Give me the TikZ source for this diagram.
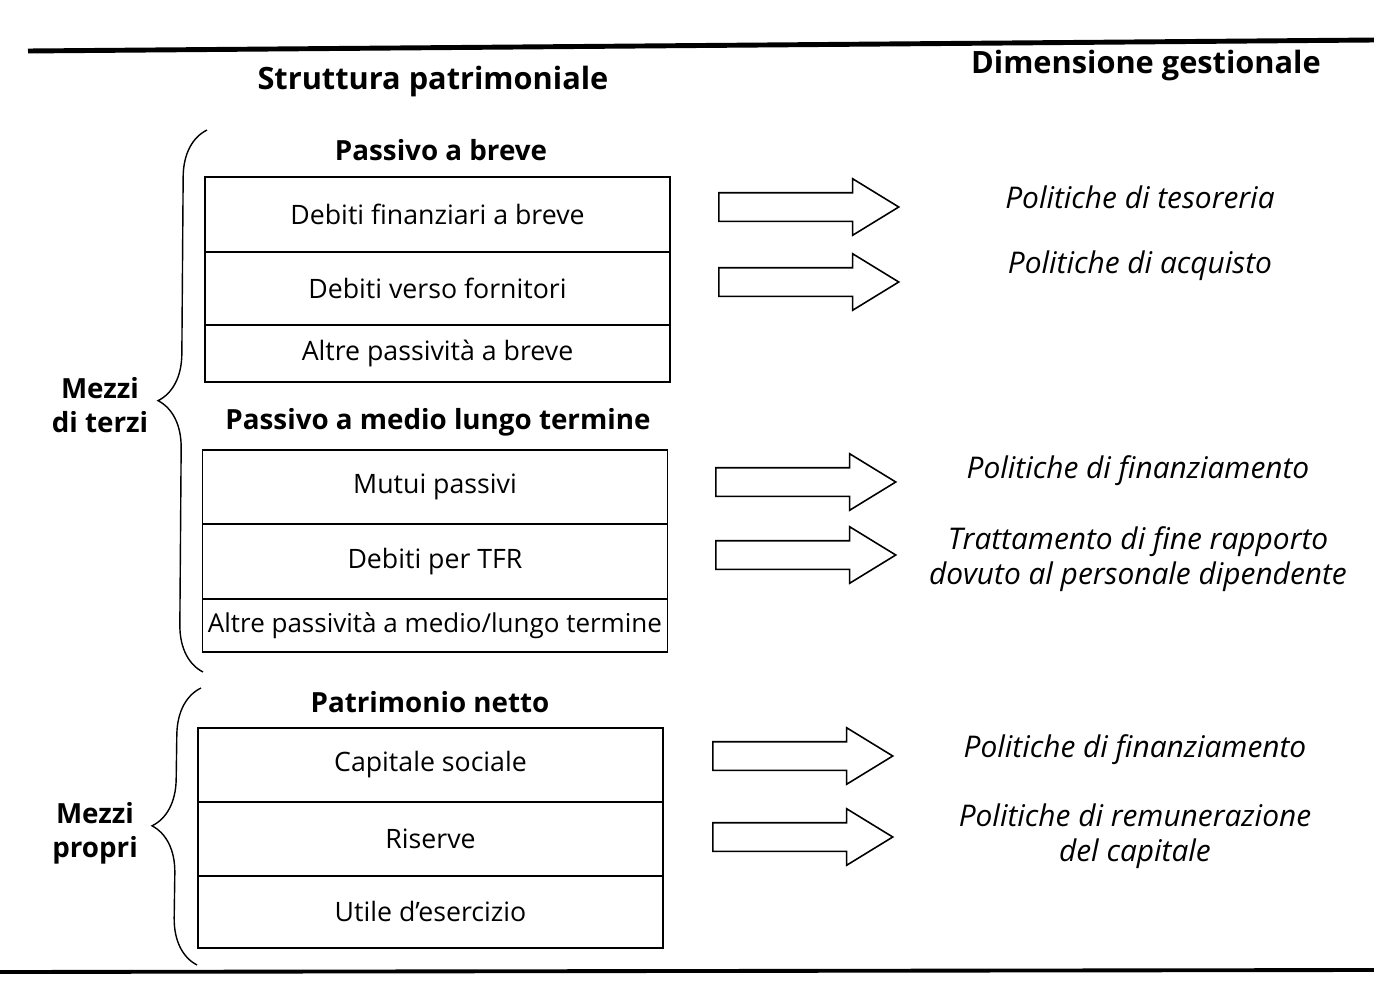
\documentclass[tikz,border=0pt]{standalone}
\usepackage{fontspec}
\setmainfont{Open Sans}
\usetikzlibrary{positioning,shapes.arrows,decorations.pathreplacing}

\tikzset{
  rowbox/.style={draw, line width=0.9pt, minimum width=9.3cm, inner sep=0pt, outer sep=0pt,
    font=\fontsize{15.2}{17}\selectfont},
  grouphead/.style={font=\bfseries\fontsize{15.8}{18}\selectfont},
  colhead/.style={font=\bfseries\fontsize{17.5}{20}\selectfont},
  sidelabel/.style={align=center, font=\bfseries\fontsize{15.8}{19.5}\selectfont},
  policy/.style={align=center, font=\itshape\fontsize{17}{20}\selectfont},
  blockarr/.style={draw, line width=0.9pt, single arrow, single arrow head extend=0.28cm,
    single arrow tip angle=63, minimum height=3.6cm, inner xsep=0pt, inner ysep=0.27cm,
    text height=0pt, text depth=0pt, anchor=tail},
  sidebrace/.style={decorate, decoration={brace, amplitude=0.94cm}, line width=0.8pt}
}

\begin{document}
\begin{tikzpicture}[x=0.02cm, y=-0.02cm]

  \useasboundingbox (0,0) rectangle (1374,984);

  % rules
  \draw[line width=2.8pt] (28,51) -- (1374,40);
  \draw[line width=2.2pt] (0,972) -- (1374,970);

  % column headings
  \node[colhead] (struttura) at (433,82) {Struttura patrimoniale};
  \node[colhead] (dimensione) at (1146,66) {Dimensione gestionale};

  % passivo a breve
  \node[grouphead] (pbreve) at (441,150) {Passivo a breve};
  \node[rowbox, minimum height=1.5cm] (debfin) at (437.5,214.5) {Debiti finanziari a breve};
  \node[rowbox, minimum height=1.46cm, below=0pt of debfin] (debforn) {Debiti verso fornitori};
  \node[rowbox, minimum height=1.14cm, below=0pt of debforn] (altrebreve) {Altre passività a breve};

  % passivo a medio lungo termine
  \node[grouphead] (pmedio) at (438,422) {Passivo a medio lungo termine};
  \node[rowbox, minimum height=1.48cm] (mutui) at (435,487) {Mutui passivi};
  \node[rowbox, minimum height=1.5cm, below=0pt of mutui] (tfr) {Debiti per TFR};
  \node[rowbox, minimum height=1.06cm, below=0pt of tfr, font=\fontsize{14.8}{17}\selectfont] (altremedio) {Altre passività a medio/lungo termine};

  % patrimonio netto
  \node[grouphead] (pnetto) at (430,702) {Patrimonio netto};
  \node[rowbox, minimum height=1.48cm] (capsoc) at (430.5,765) {Capitale sociale};
  \node[rowbox, minimum height=1.48cm, below=0pt of capsoc] (riserve) {Riserve};
  \node[rowbox, minimum height=1.44cm, below=0pt of riserve] (utile) {Utile d’esercizio};

  % braces
  \coordinate (terzibot) at (203,672);
  \coordinate (terzitop) at (207,130);
  \coordinate (propribot) at (197,965);
  \coordinate (propritop) at (201,688);
  \draw[sidebrace] (terzibot) -- (terzitop);
  \draw[sidebrace] (propribot) -- (propritop);
  \node[sidelabel] (terzi) at (100,405) {Mezzi\\di terzi};
  \node[sidelabel] (propri) at (95,833) {Mezzi\\propri};

  % arrows
  \node[blockarr] (arr1) at (718,207) {};
  \node[blockarr] (arr2) at (718,282) {};
  \node[blockarr] (arr3) at (715,482) {};
  \node[blockarr] (arr4) at (715,555) {};
  \node[blockarr] (arr5) at (712,756) {};
  \node[blockarr] (arr6) at (712,837) {};

  % politiche
  \node[policy] (tesoreria) at (1140,197) {Politiche di tesoreria};
  \node[policy] (acquisto) at (1140,266) {Politiche di acquisto};
  \node[policy] (finanz1) at (1138,471) {Politiche di finanziamento};
  \node[policy] (trattamento) at (1138,559) {Trattamento di fine rapporto\\dovuto al personale dipendente};
  \node[policy] (finanz2) at (1135,750) {Politiche di finanziamento};
  \node[policy] (remuneraz) at (1135,836) {Politiche di remunerazione\\del capitale};

\end{tikzpicture}
\end{document}
